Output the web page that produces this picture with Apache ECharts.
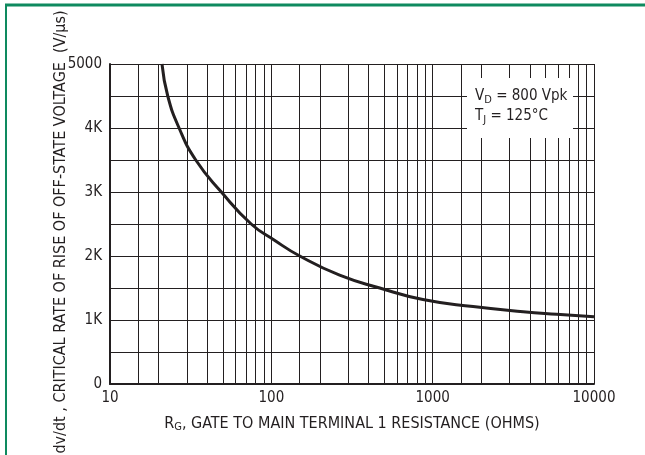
<!DOCTYPE html>
<html>
<head>
<meta charset="utf-8">
<script src="https://cdn.jsdelivr.net/npm/echarts@6/dist/echarts.min.js"></script>
<style>
html,body{margin:0;padding:0;background:#fff;}
#chart{width:645px;height:455px;}
</style>
</head>
<body>
<div id="chart"></div>
<script>
// Curve: gate resistance (ohms) vs critical dv/dt (V/us)
const resistance = [21, 22.8, 26.8, 34, 49, 75, 104, 150, 265, 470, 870, 1780, 3640, 5870, 10000];
const dvdt       = [5000, 4500, 4000, 3500, 3000, 2500, 2250, 2000, 1700, 1500, 1320, 1210, 1130, 1090, 1050];
// Intermediate vertical grid lines on the log axis
const minorGridX = [15, 20, 30, 40, 50, 60, 70, 80, 90,
                    150, 200, 300, 400, 500, 600, 700, 800, 900,
                    1500, 2000, 3000, 4000, 5000, 6000, 7000, 8000, 9000];
const yTickLabels = ['0', '1K', '2K', '3K', '4K', '5000'];
const xTitle = 'R{sub|G}, GATE TO MAIN TERMINAL 1 RESISTANCE (OHMS)';
const yTitle = 'dv/dt , CRITICAL RATE OF RISE OF OFF-STATE VOLTAGE  (V/\u03BCs)';
const note1 = 'V{sub|D} = 800 Vpk';
const note2 = 'T{sub|J} = 125\u00B0C';

const FONT = "'Liberation Sans Narrow', 'DejaVu Sans Condensed', 'Roboto', sans-serif";
const INK = '#231f20';

const chart = echarts.init(document.getElementById('chart'), null, {renderer: 'canvas'});
chart.setOption({
  animation: false,
  backgroundColor: '#ffffff',
  grid: {left: 110, right: 51, top: 64, bottom: 71},
  xAxis: {
    type: 'log', logBase: 10, min: 10, max: 10000,
    axisLine: {show: true, lineStyle: {color: INK, width: 2}},
    axisTick: {show: false},
    splitLine: {show: true, lineStyle: {color: INK, width: 1}},
    axisLabel: {color: INK, fontFamily: FONT, fontSize: 15, margin: 7,
      formatter: v => String(Math.round(v))},
    name: xTitle, nameLocation: 'middle', nameGap: 30,
    nameTextStyle: {color: INK, fontFamily: FONT, fontSize: 16,
      rich: {sub: {fontFamily: FONT, fontSize: 11, verticalAlign: 'bottom', padding: [8, 0, 0, 0], color: INK}}}
  },
  yAxis: {
    type: 'value', min: 0, max: 5000, interval: 500,
    axisLine: {show: true, lineStyle: {color: INK, width: 2}},
    axisTick: {show: false},
    splitLine: {show: true, lineStyle: {color: INK, width: 1}},
    axisLabel: {color: INK, fontFamily: FONT, fontSize: 15, margin: 8,
      formatter: v => (v % 1000 === 0 ? yTickLabels[v / 1000] : '')}
  },
  graphic: [
    {type: 'line', shape: {x1: 5, y1: 5, x2: 645, y2: 5}, style: {stroke: '#0e8a5f', lineWidth: 3}},
    {type: 'line', shape: {x1: 6, y1: 4, x2: 6, y2: 455}, style: {stroke: '#0e8a5f', lineWidth: 2}},
    {type: 'text', x: 61, y: 232, rotation: Math.PI / 2,
      style: {text: yTitle, fill: INK, font: '16px ' + FONT, align: 'center', verticalAlign: 'middle'}},
    {type: 'rect', z: 10, shape: {x: 467, y: 78, width: 106, height: 60}, style: {fill: '#ffffff'}},
    {type: 'text', z: 11, x: 475, y: 96,
      style: {text: note1, fill: INK, font: '15px ' + FONT, verticalAlign: 'middle',
        rich: {sub: {fontFamily: FONT, fontSize: 11, verticalAlign: 'bottom', padding: [8, 0, 0, 0], fill: INK}}}},
    {type: 'text', z: 11, x: 475, y: 116,
      style: {text: note2, fill: INK, font: '15px ' + FONT, verticalAlign: 'middle',
        rich: {sub: {fontFamily: FONT, fontSize: 11, verticalAlign: 'bottom', padding: [8, 0, 0, 0], fill: INK}}}}
  ],
  series: [
    {
      type: 'line', data: [], silent: true, z: 1,
      markLine: {
        silent: true, symbol: 'none', label: {show: false},
        lineStyle: {color: INK, width: 1, type: 'solid'},
        emphasis: {disabled: true},
        data: minorGridX.map(v => ({xAxis: v}))
      }
    },
    {
      type: 'line', z: 5, smooth: 0.5, showSymbol: false, symbol: 'none',
      lineStyle: {color: INK, width: 3},
      data: resistance.map((r, i) => [r, dvdt[i]])
    }
  ]
});
</script>
</body>
</html>
